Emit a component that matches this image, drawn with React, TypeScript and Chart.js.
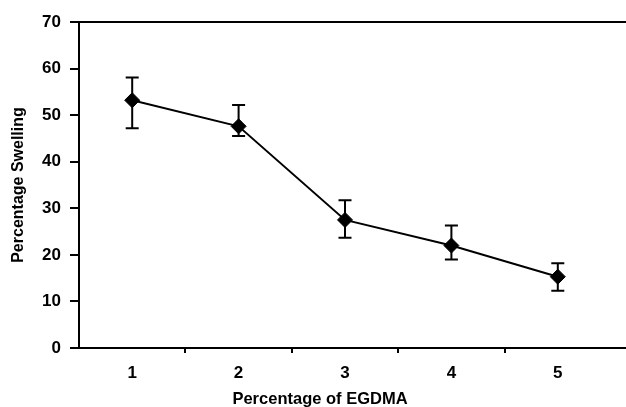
import React, { useEffect, useRef } from "react";
import { Chart, registerables } from "chart.js";

Chart.register(...registerables);

const categories = ["1", "2", "3", "4", "5"];
const swelling = [53.2, 47.6, 27.5, 22.0, 15.3];
const errUpper = [58.1, 52.2, 31.7, 26.3, 18.2];
const errLower = [47.2, 45.5, 23.7, 19.0, 12.3];
const yTicks = [0, 10, 20, 30, 40, 50, 60, 70];
const xTitle = "Percentage of EGDMA";
const yTitle = "Percentage Swelling";

const W = 626;
const H = 407;
const FONT = "'Liberation Sans', Arial, Helvetica, sans-serif";

const errorBarPlugin = {
  id: "errorBars",
  beforeDatasetsDraw(chart: any) {
    const { ctx, scales } = chart;
    const meta = chart.getDatasetMeta(0);
    ctx.save();
    ctx.strokeStyle = "#000";
    ctx.lineWidth = 2;
    meta.data.forEach((pt: any, i: number) => {
      const x = pt.x;
      const yT = scales.y.getPixelForValue(errUpper[i]);
      const yB = scales.y.getPixelForValue(errLower[i]);
      const cap = 6.5;
      ctx.beginPath();
      ctx.moveTo(x, yT);
      ctx.lineTo(x, yB);
      ctx.moveTo(x - cap, yT);
      ctx.lineTo(x + cap, yT);
      ctx.moveTo(x - cap, yB);
      ctx.lineTo(x + cap, yB);
      ctx.stroke();
    });
    ctx.restore();
  },
};

const framePlugin = {
  id: "frameLines",
  afterDraw(chart: any) {
    const { ctx, chartArea, width, height, scales } = chart;
    ctx.save();
    ctx.strokeStyle = "#000";
    ctx.lineWidth = 2;
    ctx.lineCap = "butt";
    const top = Math.round(chartArea.top);
    const bottom = Math.round(chartArea.bottom);
    ctx.beginPath();
    ctx.moveTo(chartArea.left - 1, top);
    ctx.lineTo(width, top);
    ctx.stroke();
    ctx.beginPath();
    ctx.moveTo(chartArea.left - 1, bottom);
    ctx.lineTo(width, bottom);
    ctx.stroke();
    // x tick marks between categories
    ctx.beginPath();
    for (let i = 0; i < categories.length - 1; i++) {
      const xp = Math.round((scales.x.getPixelForValue(i) + scales.x.getPixelForValue(i + 1)) / 2);
      ctx.moveTo(xp, bottom);
      ctx.lineTo(xp, bottom + 5);
    }
    ctx.stroke();
    // x axis title (sits slightly left of the plot centre in the original)
    ctx.fillStyle = "#000";
    ctx.font = `bold 16.5px ${FONT}`;
    ctx.textAlign = "center";
    ctx.textBaseline = "middle";
    ctx.fillText(xTitle, scales.x.getPixelForValue(2) - 25, height - 7.5);
    ctx.restore();
  },
};

export default function App() {
  const ref = useRef<HTMLCanvasElement | null>(null);

  useEffect(() => {
    if (!ref.current) return;
    const chart = new Chart(ref.current, {
      type: "line",
      data: {
        labels: categories,
        datasets: [
          {
            data: swelling,
            borderColor: "#000",
            borderWidth: 2,
            backgroundColor: "#000",
            pointStyle: "rectRot",
            pointRadius: 7.5,
            pointBorderWidth: 1,
            pointBackgroundColor: "#000",
            pointBorderColor: "#000",
            tension: 0,
          },
        ],
      },
      options: {
        responsive: false,
        animation: false,
        events: [],
        layout: { padding: { top: 22, right: 15, bottom: 0, left: 0 } },
        plugins: {
          legend: { display: false },
          tooltip: { enabled: false },
        },
        scales: {
          x: {
            type: "category",
            offset: true,
            grid: { display: false, drawTicks: false, drawOnChartArea: false },
            border: { display: false },
            ticks: {
              color: "#000",
              padding: 15,
              font: { family: FONT, size: 17, weight: "bold" },
            },
            title: { display: false },
            afterFit: (s: any) => {
              s.height = 59;
            },
          },
          y: {
            min: 0,
            max: 70,
            afterBuildTicks: (s: any) => {
              s.ticks = yTicks.map((v) => ({ value: v }));
            },
            grid: {
              drawOnChartArea: false,
              drawTicks: true,
              tickLength: 9,
              lineWidth: 2,
              color: "#000",
            },
            border: { display: true, color: "#000", width: 2 },
            ticks: {
              color: "#000",
              padding: 9,
              font: { family: FONT, size: 17, weight: "bold" },
            },
            title: {
              display: true,
              text: yTitle,
              color: "#000",
              padding: { top: 11, bottom: 0 },
              font: { family: FONT, size: 16, weight: "bold", lineHeight: 1 },
            },
            afterFit: (s: any) => {
              s.width = 79;
            },
          },
        },
      },
      plugins: [errorBarPlugin, framePlugin],
    });
    return () => chart.destroy();
  }, []);

  return (
    <div style={{ position: "absolute", left: 0, top: 0, width: W, height: H, background: "#fff" }}>
      <canvas ref={ref} width={W} height={H} />
    </div>
  );
}
